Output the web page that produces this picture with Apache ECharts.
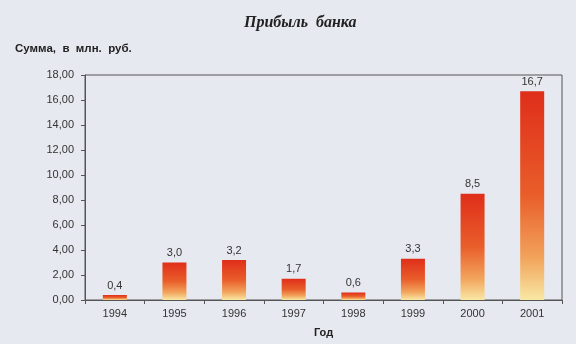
<!DOCTYPE html>
<html><head><meta charset="utf-8">
<script src="https://cdn.jsdelivr.net/npm/echarts@6/dist/echarts.min.js"></script>
<style>html,body{margin:0;padding:0;background:#e7e9f0;}#c{width:576px;height:344px;}</style>
</head><body><div id="c"></div>
<script>
const years = ['1994','1995','1996','1997','1998','1999','2000','2001'];
const profit = [0.4, 3.0, 3.2, 1.7, 0.6, 3.3, 8.5, 16.7];
const yTicks = {min: 0, max: 18, interval: 2};
const titleText = 'Прибыль  банка';
const yName = 'Сумма,  в  млн.  руб.';
const xName = 'Год';

const chart = echarts.init(document.getElementById('c'));
const grad = new echarts.graphic.LinearGradient(0, 0, 0, 1, [
  {offset: 0, color: '#df2e1a'},
  {offset: 0.5, color: '#e95e2a'},
  {offset: 0.8, color: '#f2a45c'},
  {offset: 1, color: '#f8e8a4'}
]);
chart.setOption({
  backgroundColor: '#e7e9f0',
  animation: false,
  title: {
    text: titleText, top: 10, left: 239,
    textStyle: {fontFamily: 'Liberation Serif', fontStyle: 'italic', fontWeight: 'bold', fontSize: 16, color: '#222'}
  },
  grid: {left: 85, right: 14, top: 75, bottom: 44, show: true, borderColor: '#555', borderWidth: 1, backgroundColor: 'transparent'},
  xAxis: {
    type: 'category', data: years,
    name: xName, nameLocation: 'middle', nameGap: 27,
    nameTextStyle: {fontFamily: 'Liberation Sans', fontWeight: 'bold', fontSize: 11, color: '#222'},
    axisLine: {lineStyle: {color: '#555'}},
    axisTick: {show: true, length: 4, lineStyle: {color: '#555'}},
    axisLabel: {fontFamily: 'Liberation Sans', fontSize: 11, color: '#333', margin: 8}
  },
  yAxis: {
    type: 'value', min: yTicks.min, max: yTicks.max, interval: yTicks.interval,
    name: yName, nameLocation: 'end', nameGap: 20,
    nameTextStyle: {fontFamily: 'Liberation Sans', fontWeight: 'bold', fontSize: 11.5, color: '#222', align: 'left', padding: [0, 0, 0, -70]},
    axisLine: {show: true, lineStyle: {color: '#555'}},
    axisTick: {show: true, length: 4, lineStyle: {color: '#555'}},
    splitLine: {show: false},
    axisLabel: {fontFamily: 'Liberation Sans', fontSize: 11, color: '#333', margin: 11,
      formatter: v => v.toFixed(2).replace('.', ',')}
  },
  series: [{
    type: 'bar', data: profit, barWidth: 24,
    itemStyle: {color: grad},
    label: {show: true, position: 'top', distance: 4, fontFamily: 'Liberation Sans', fontSize: 11, color: '#333',
      formatter: p => p.value.toFixed(1).replace('.', ',')}
  }]
});
</script></body></html>
